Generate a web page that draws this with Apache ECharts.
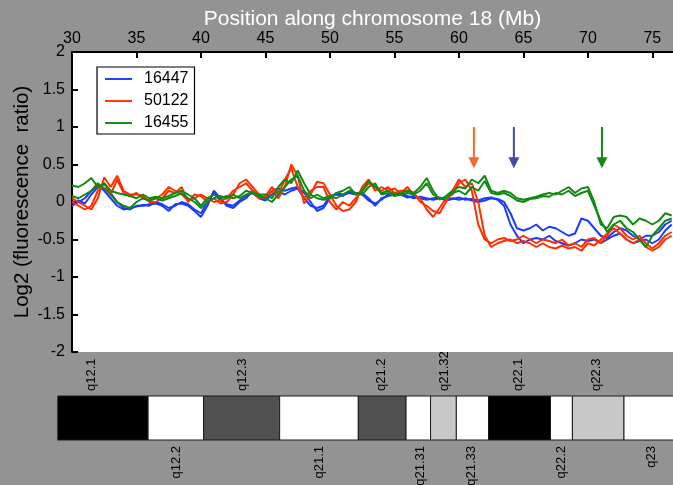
<!DOCTYPE html>
<html><head><meta charset="utf-8">
<script src="https://cdn.jsdelivr.net/npm/echarts@6/dist/echarts.min.js"></script>
<style>html,body{margin:0;padding:0;background:#939393}#c{width:673px;height:485px}</style>
</head><body><div id="c"></div>
<script>
const positionsMb = [30,30.5,31,31.5,32,32.5,33,33.5,34,34.5,35,35.5,36,36.5,37,37.5,38,38.5,39,39.5,40,40.5,41,41.5,42,42.5,43,43.5,44,44.5,45,45.5,46,46.5,47,47.5,48,48.5,49,49.5,50,50.5,51,51.5,52,52.5,53,53.5,54,54.5,55,55.5,56,56.5,57,57.5,58,58.5,59,59.5,60,60.5,61,61.5,62,62.5,63,63.5,64,64.5,65,65.5,66,66.5,67,67.5,68,68.5,69,69.5,70,70.5,71,71.5,72,72.5,73,73.5,74,74.5,75,75.5,76,76.5];
const blueA = [0.0,0.02,-0.02,0.1,0.2,0.18,0.12,0.0,-0.08,-0.1, -0.05,-0.05,-0.03,-0.02,-0.05,-0.12,-0.03,-0.02,-0.05,-0.12, -0.2,-0.05,0.15,0.05,-0.05,-0.08,0.0,0.05,0.15,0.08, 0.05,0.15,0.18,0.15,0.18,0.2,0.12,0.0,-0.12,-0.08, 0.05,0.12,0.1,0.12,0.1,0.12,0.05,-0.05,0.05,0.08, 0.1,0.12,0.08,0.05,0.07,0.05,0.03,0.05,0.04,0.05, 0.03,0.05,0.02,0.0,0.02,0.05,0.04,0.0,-0.15,-0.35, -0.38,-0.35,-0.3,-0.38,-0.33,-0.35,-0.4,-0.45,-0.42,-0.22, -0.25,-0.35,-0.45,-0.48,-0.4,-0.35,-0.38,-0.45,-0.5,-0.45, -0.45,-0.4,-0.3,-0.25];
const blueB = [-0.05,0.0,0.05,0.15,0.22,0.15,0.05,-0.05,-0.1,-0.08, -0.06,-0.04,-0.05,0.0,-0.03,-0.08,-0.05,0.0,-0.03,-0.1, -0.15,0.0,0.12,0.02,-0.03,-0.05,0.02,0.08,0.12,0.05, 0.02,0.1,0.14,0.1,0.15,0.18,0.05,-0.05,-0.08,-0.05, 0.08,0.1,0.08,0.14,0.12,0.1,0.02,-0.02,0.03,0.1, 0.12,0.1,0.06,0.08,0.05,0.03,0.05,0.06,0.02,0.04, 0.06,0.03,0.04,0.02,0.05,0.06,0.03,-0.05,-0.3,-0.45, -0.55,-0.5,-0.48,-0.5,-0.45,-0.52,-0.55,-0.58,-0.55,-0.5, -0.52,-0.5,-0.55,-0.5,-0.45,-0.42,-0.5,-0.55,-0.52,-0.5, -0.55,-0.5,-0.38,-0.3];
const redA = [0.05,0.0,-0.05,-0.1,0.05,0.33,0.2,0.35,0.15,0.1, 0.1,0.08,0.0,0.0,0.05,0.15,0.12,0.2,0.0,0.1, 0.08,0.0,0.05,-0.02,0.0,0.1,0.25,0.3,0.2,0.1, 0.05,0.15,0.05,0.2,0.5,0.35,-0.02,0.1,0.27,0.25, 0.1,-0.05,-0.12,-0.1,0.0,0.2,0.3,0.15,0.2,0.15, 0.18,0.12,0.2,0.1,0.05,-0.1,-0.2,-0.08,0.05,0.1, 0.25,0.3,0.15,-0.3,-0.5,-0.55,-0.5,-0.48,-0.52,-0.5, -0.45,-0.5,-0.55,-0.5,-0.52,-0.55,-0.5,-0.58,-0.55,-0.6, -0.5,-0.48,-0.55,-0.45,-0.3,-0.35,-0.45,-0.5,-0.45,-0.55, -0.62,-0.55,-0.45,-0.4];
const redB = [0.0,-0.05,-0.1,-0.05,0.15,0.25,0.1,0.3,0.12,0.08, 0.12,0.05,0.02,0.05,0.1,0.2,0.15,0.1,0.02,0.05, 0.1,0.05,0.0,0.02,0.05,0.15,0.2,0.25,0.15,0.05, 0.08,0.2,0.1,0.3,0.45,0.2,0.05,0.15,0.2,0.2, 0.0,-0.1,0.0,-0.05,0.05,0.15,0.25,0.2,0.15,0.2, 0.12,0.15,0.15,0.12,0.0,-0.05,-0.12,-0.15,0.0,0.15, 0.3,0.2,0.25,0.0,-0.45,-0.6,-0.55,-0.52,-0.5,-0.55, -0.52,-0.55,-0.6,-0.55,-0.6,-0.62,-0.58,-0.62,-0.6,-0.65, -0.55,-0.58,-0.5,-0.42,-0.35,-0.42,-0.5,-0.55,-0.5,-0.6, -0.65,-0.6,-0.5,-0.45];
const greenA = [0.22,0.2,0.25,0.32,0.2,0.25,0.15,0.12,0.1,0.08, 0.05,0.1,0.05,0.07,0.05,0.08,0.12,0.15,0.1,0.05, -0.05,0.05,0.1,0.05,0.08,0.05,0.08,0.15,0.12,0.1, 0.1,0.05,0.2,0.3,0.25,0.42,0.25,0.1,0.05,0.03, 0.05,0.12,0.15,0.2,0.1,0.15,0.28,0.2,0.12,0.15, 0.1,0.12,0.15,0.12,0.2,0.32,0.15,0.03,0.08,0.15, 0.2,0.18,0.3,0.25,0.35,0.15,0.12,0.15,0.12,0.05, 0.03,0.05,0.07,0.1,0.12,0.1,0.15,0.2,0.12,0.18, 0.2,0.0,-0.3,-0.35,-0.2,-0.18,-0.2,-0.3,-0.22,-0.25, -0.3,-0.25,-0.15,-0.18];
const greenB = [0.08,0.05,0.1,0.15,0.25,0.18,0.1,0.0,-0.05,-0.08, 0.0,0.05,0.02,0.05,0.02,0.05,0.08,0.12,0.05,0.0, -0.08,0.0,0.05,0.08,0.05,0.1,0.05,0.1,0.12,0.08, 0.05,0.0,0.1,0.2,0.3,0.35,0.15,0.05,0.1,0.05, 0.08,0.05,0.1,0.15,0.12,0.1,0.2,0.25,0.1,0.12, 0.08,0.1,0.12,0.1,0.15,0.25,0.1,0.05,0.05,0.12, 0.15,0.1,0.2,0.15,0.28,0.12,0.1,0.12,0.08,0.02, 0.0,0.04,0.05,0.08,0.07,0.12,0.1,0.15,0.08,0.12, 0.15,-0.05,-0.25,-0.4,-0.3,-0.25,-0.35,-0.4,-0.5,-0.6, -0.45,-0.35,-0.25,-0.22];
const sampleNames = ['16447', '50122', '16455'];
const xTickLabels = ['30','35','40','45','50','55','60','65','70','75'];
const arrowMb = [61.16, 64.26, 71.09];
const arrowTopLog2 = 1.0, arrowTipLog2 = 0.45;
const bandStart = [28.9, 35.9, 40.2, 46.1, 52.2, 55.9, 57.8, 59.8, 62.3, 67.1, 68.8, 72.8];
const bandEnd   = [35.9, 40.2, 46.1, 52.2, 55.9, 57.8, 59.8, 62.3, 67.1, 68.8, 72.8, 77.5];
const bandStain = ['gpos100','gneg','gpos75','gneg','gpos75','gneg','gpos25','gneg','gpos100','gneg','gpos25','gneg'];
const bandNames = ['q12.1','q12.2','q12.3','q21.1','q21.2','q21.31','q21.32','q21.33','q22.1','q22.2','q22.3','q23'];
const bandLabelMb = [31.5, 38.06, 43.18, 49.22, 54.03, 56.98, 58.84, 61.0, 64.65, 67.98, 70.7, 74.96];

const FONT = '"Liberation Sans", Arial, Helvetica, sans-serif';
const colors = ['#1a3cff', '#ff3000', '#128a12'];
const arrowColors = ['#f5692a', '#4848a8', '#138a13'];
const stainFill = {gpos100: '#000000', gpos75: '#505050', gpos25: '#c8c8c8', gneg: '#ffffff'};

function zip(ys) { return positionsMb.map((x, i) => [x, ys[i]]); }
function lineSeries(name, ys, c) {
  return {type: 'line', name: name, data: zip(ys), symbol: 'none', showSymbol: false,
    xAxisIndex: 0, yAxisIndex: 0, lineStyle: {color: c, width: 2}, itemStyle: {color: c},
    emphasis: {disabled: true}, animation: false};
}

const chart = echarts.init(document.getElementById('c'), null, {renderer: 'canvas'});
chart.setOption({
  backgroundColor: '#939393',
  animation: false,
  textStyle: {fontFamily: FONT},
  grid: [
    {left: 72, top: 52, right: 0, height: 300, show: true, backgroundColor: '#ffffff', borderWidth: 0},
    {left: 72, top: 396, right: 0, height: 44, show: false}
  ],
  legend: {
    data: sampleNames, orient: 'vertical', left: 97, top: 67,
    backgroundColor: '#ffffff', borderColor: '#000', borderWidth: 1.2,
    padding: [4, 6, 3, 8], itemWidth: 27, itemHeight: 14, itemGap: 6,
    icon: 'path://M0,9 L28,9 L28,11 L0,11 Z',
    textStyle: {fontSize: 16, lineHeight: 14, color: '#000', fontFamily: FONT, padding: [0, 0, 0, 7]},
    selectedMode: false
  },
  xAxis: [
    {type: 'value', gridIndex: 0, position: 'top', min: 30, max: 76.6, interval: 5,
      name: 'Position along chromosome 18 (Mb)', nameLocation: 'middle', nameGap: 22, nameMoveOverlap: false,
      nameTextStyle: {color: '#ffffff', fontSize: 21, fontFamily: FONT},
      axisLine: {show: true, onZero: false, lineStyle: {color: '#000', width: 2}},
      axisTick: {show: true, inside: true, length: 6, lineStyle: {color: '#000', width: 2}},
      axisLabel: {color: '#000', fontSize: 16, margin: 5, fontFamily: FONT, showMaxLabel: false,
        formatter: v => { const i = Math.round((v - 30) / 5); return (Math.abs(v - 30 - i * 5) < 1e-6 && xTickLabels[i]) ? xTickLabels[i] : ''; }},
      splitLine: {show: false}},
    {type: 'value', gridIndex: 1, min: 30, max: 76.6, show: false}
  ],
  yAxis: [
    {type: 'value', gridIndex: 0, min: -2, max: 2, interval: 0.5,
      name: 'Log2 (fluorescence  ratio)', nameLocation: 'middle', nameGap: 39, nameRotate: 90, nameMoveOverlap: false,
      nameTextStyle: {color: '#000', fontSize: 20.5, fontFamily: FONT},
      axisLine: {show: true, onZero: false, lineStyle: {color: '#000', width: 2}},
      axisTick: {show: true, inside: true, length: 6, lineStyle: {color: '#000', width: 2}},
      axisLabel: {color: '#000', fontSize: 16, margin: 7, fontFamily: FONT},
      splitLine: {show: false}},
    {type: 'value', gridIndex: 1, min: 0, max: 1, show: false}
  ],
  series: [
    lineSeries(sampleNames[0], blueA, colors[0]),
    lineSeries(sampleNames[0], blueB, colors[0]),
    lineSeries(sampleNames[1], redA, colors[1]),
    lineSeries(sampleNames[1], redB, colors[1]),
    lineSeries(sampleNames[2], greenA, colors[2]),
    lineSeries(sampleNames[2], greenB, colors[2]),
    {
      type: 'custom', name: 'arrows', xAxisIndex: 0, yAxisIndex: 0, clip: false, silent: true,
      data: arrowMb.map((x, i) => [x, arrowTopLog2, arrowTipLog2, i]),
      renderItem: function (params, api) {
        const top = api.coord([api.value(0), api.value(1)]);
        const tip = api.coord([api.value(0), api.value(2)]);
        const c = arrowColors[api.value(3)];
        const hl = 11, hw = 5.5;
        return {type: 'group', children: [
          {type: 'line', shape: {x1: top[0], y1: top[1], x2: tip[0], y2: tip[1] - hl + 1}, style: {stroke: c, lineWidth: 2}},
          {type: 'polygon', shape: {points: [[tip[0] - hw, tip[1] - hl], [tip[0] + hw, tip[1] - hl], [tip[0], tip[1]]]}, style: {fill: c}}
        ]};
      }
    },
    {
      type: 'custom', name: 'bands', xAxisIndex: 1, yAxisIndex: 1, clip: false, silent: true,
      data: bandStart.map((s, i) => [s, bandEnd[i], i]),
      renderItem: function (params, api) {
        const p0 = api.coord([api.value(0), 1]);
        const p1 = api.coord([api.value(1), 0]);
        return {type: 'rect', shape: {x: p0[0], y: p0[1], width: p1[0] - p0[0], height: p1[1] - p0[1]},
          style: {fill: stainFill[bandStain[api.value(2)]], stroke: '#1a1a1a', lineWidth: 1}};
      }
    },
    {
      type: 'custom', name: 'bandLabels', xAxisIndex: 1, yAxisIndex: 1, clip: false, silent: true,
      data: bandLabelMb.map((x, i) => [x, i % 2 === 0 ? 1 : 0, i]),
      renderItem: function (params, api) {
        const above = api.value(1) === 1;
        const p = api.coord([api.value(0), api.value(1)]);
        return {type: 'text', x: p[0], y: above ? p[1] - 5 : p[1] + 6, rotation: Math.PI / 2,
          style: {text: bandNames[api.value(2)], fill: '#000', font: '13px ' + FONT,
            align: above ? 'left' : 'right', verticalAlign: 'middle'}};
      }
    }
  ]
});
</script></body></html>
